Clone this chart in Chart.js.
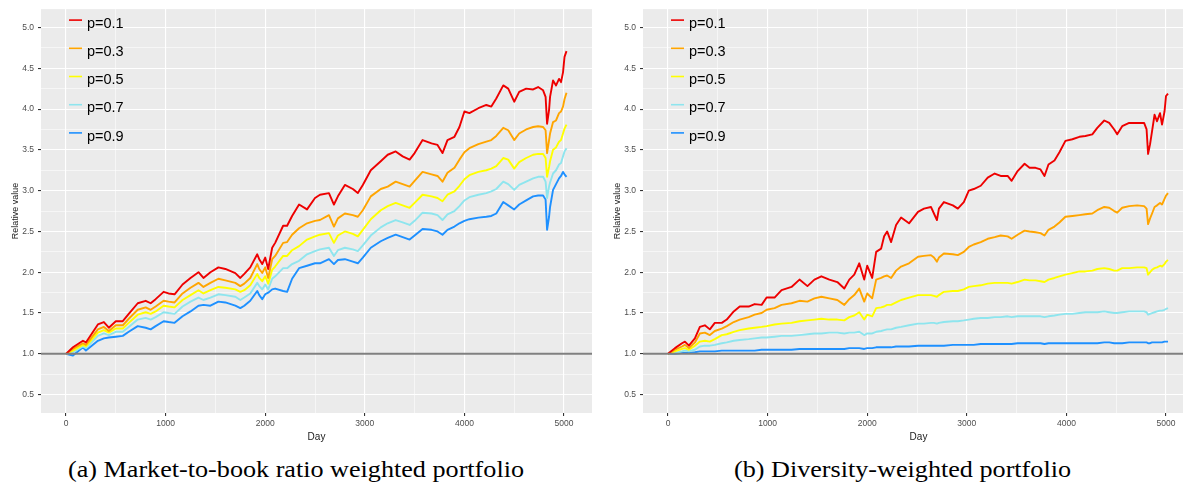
<!DOCTYPE html>
<html>
<head>
<meta charset="utf-8">
<script src="https://cdn.jsdelivr.net/npm/chart.js@4.4.1/dist/chart.umd.min.js"></script>
<style>
  html, body { margin: 0; padding: 0; background: #fff; overflow: hidden; }
  #wrap { position: relative; width: 1183px; height: 483px; overflow: hidden; }
  canvas { position: absolute; top: 0; }
  #cLeft { left: 0; }
  #cRight { left: 600px; }
  .cap { position: absolute; top: 458px; font-family: "Liberation Serif", serif; font-size: 23px;
         line-height: 23px; color: #000; white-space: nowrap; transform-origin: left top; }
</style>
</head>
<body>
<div id="wrap">
  <canvas id="cLeft" width="600" height="450"></canvas>
  <canvas id="cRight" width="600" height="450"></canvas>
  <div class="cap" id="capLeft">(a) Market-to-book ratio weighted portfolio</div>
  <div class="cap" id="capRight">(b) Diversity-weighted portfolio</div>
</div>
<script>
// series names + colours
const seriesNames = ['p=0.1', 'p=0.3', 'p=0.5', 'p=0.7', 'p=0.9'];
const seriesColors = ['#EE0000', '#FFA500', '#FFFF00', '#8EE5EE', '#1E90FF'];

// axis ticks
const xMajor = [0, 1000, 2000, 3000, 4000, 5000];
const xGrid = [0, 500, 1000, 1500, 2000, 2500, 3000, 3500, 4000, 4500, 5000];
const yGrid = [0.5, 0.75, 1.0, 1.25, 1.5, 1.75, 2.0, 2.25, 2.5, 2.75, 3.0, 3.25, 3.5, 3.75, 4.0, 4.25, 4.5, 4.75, 5.0];
const baseline = 1.0;

// (a) market-to-book ratio weighted portfolio
const leftDays = [
  0, 70, 170, 200, 320, 380, 430, 500, 570, 630,
  720, 800, 850, 900, 980, 1030, 1090, 1170, 1250, 1330,
  1380, 1450, 1530, 1600, 1700, 1750, 1790, 1850, 1920, 1940,
  1970, 2000, 2030, 2070, 2100, 2180, 2220, 2270, 2340, 2420,
  2500, 2550, 2640, 2690, 2730, 2800, 2880, 2930, 2980, 3060,
  3160, 3230, 3310, 3380, 3450, 3500, 3580, 3670, 3730, 3780,
  3830, 3900, 3950, 4000, 4050, 4140, 4220, 4270, 4320, 4390,
  4440, 4500, 4550, 4620, 4690, 4740, 4790, 4815, 4830, 4850,
  4860, 4890, 4920, 4950, 4970, 4990, 5005, 5025
];
const leftP1 = [
  1.00, 1.08, 1.16, 1.14, 1.36, 1.39, 1.32, 1.40, 1.40, 1.49,
  1.62, 1.65, 1.62, 1.67, 1.76, 1.74, 1.73, 1.85, 1.93, 2.00,
  1.93, 2.00, 2.06, 2.04, 1.99, 1.93, 1.98, 2.06, 2.22, 2.16,
  2.10, 2.18, 2.04, 2.30, 2.36, 2.57, 2.57, 2.69, 2.83, 2.77,
  2.91, 2.95, 2.97, 2.83, 2.93, 3.07, 3.02, 2.97, 3.07, 3.25,
  3.36, 3.44, 3.48, 3.42, 3.38, 3.46, 3.62, 3.58, 3.56, 3.46,
  3.62, 3.66, 3.78, 3.97, 3.95, 4.01, 4.05, 4.03, 4.13, 4.29,
  4.25, 4.09, 4.21, 4.25, 4.24, 4.27, 4.23, 4.15, 3.82, 3.99,
  4.15, 4.35, 4.29, 4.37, 4.33, 4.45, 4.64, 4.71
];
const leftP3 = [
  1.00, 1.06, 1.13, 1.11, 1.30, 1.33, 1.28, 1.35, 1.35, 1.43,
  1.54, 1.57, 1.54, 1.58, 1.65, 1.64, 1.63, 1.74, 1.81, 1.87,
  1.82, 1.87, 1.92, 1.90, 1.87, 1.83, 1.86, 1.93, 2.10, 2.04,
  1.99, 2.06, 1.93, 2.16, 2.20, 2.36, 2.37, 2.46, 2.54, 2.60,
  2.63, 2.64, 2.70, 2.56, 2.66, 2.72, 2.70, 2.68, 2.76, 2.93,
  3.02, 3.05, 3.11, 3.08, 3.05, 3.12, 3.23, 3.20, 3.18, 3.11,
  3.22, 3.28, 3.38, 3.47, 3.52, 3.57, 3.60, 3.62, 3.67, 3.77,
  3.74, 3.62, 3.70, 3.75, 3.78, 3.79, 3.78, 3.74, 3.46, 3.62,
  3.70, 3.84, 3.86, 3.95, 3.97, 4.03, 4.12, 4.20
];
const leftP5 = [
  1.00, 1.04, 1.11, 1.09, 1.26, 1.29, 1.26, 1.31, 1.31, 1.38,
  1.48, 1.51, 1.49, 1.52, 1.59, 1.58, 1.57, 1.66, 1.72, 1.78,
  1.74, 1.78, 1.82, 1.81, 1.79, 1.76, 1.78, 1.84, 1.98, 1.93,
  1.89, 1.95, 1.86, 2.03, 2.07, 2.20, 2.20, 2.27, 2.32, 2.40,
  2.44, 2.46, 2.48, 2.36, 2.45, 2.50, 2.47, 2.44, 2.52, 2.65,
  2.76, 2.81, 2.85, 2.82, 2.79, 2.85, 2.95, 2.93, 2.91, 2.87,
  2.95, 2.99, 3.06, 3.14, 3.19, 3.23, 3.25, 3.27, 3.30, 3.40,
  3.38, 3.27, 3.35, 3.40, 3.44, 3.45, 3.45, 3.40, 3.17, 3.29,
  3.36, 3.50, 3.53, 3.60, 3.62, 3.70, 3.76, 3.81
];
const leftP7 = [
  1.00, 1.02, 1.09, 1.07, 1.22, 1.25, 1.23, 1.27, 1.27, 1.33,
  1.42, 1.44, 1.42, 1.45, 1.51, 1.50, 1.49, 1.58, 1.64, 1.69,
  1.66, 1.69, 1.73, 1.72, 1.70, 1.66, 1.69, 1.74, 1.87, 1.83,
  1.79, 1.85, 1.79, 1.92, 1.95, 2.05, 2.05, 2.10, 2.14, 2.22,
  2.26, 2.28, 2.30, 2.20, 2.27, 2.30, 2.28, 2.26, 2.33, 2.45,
  2.55, 2.60, 2.64, 2.61, 2.58, 2.63, 2.73, 2.72, 2.70, 2.64,
  2.71, 2.75, 2.81, 2.88, 2.92, 2.95, 2.97, 2.99, 3.02, 3.11,
  3.08, 3.01, 3.07, 3.11, 3.15, 3.17, 3.17, 3.11, 2.91, 3.05,
  3.10, 3.21, 3.25, 3.32, 3.34, 3.42, 3.48, 3.52
];
const leftP9 = [
  1.00, 0.98, 1.08, 1.04, 1.16, 1.19, 1.20, 1.21, 1.22, 1.27,
  1.34, 1.32, 1.30, 1.34, 1.40, 1.39, 1.38, 1.46, 1.52, 1.59,
  1.60, 1.59, 1.64, 1.63, 1.59, 1.56, 1.59, 1.65, 1.77, 1.72,
  1.67, 1.73, 1.75, 1.79, 1.80, 1.77, 1.76, 1.92, 2.05, 2.08,
  2.11, 2.11, 2.16, 2.10, 2.15, 2.16, 2.13, 2.11, 2.18, 2.30,
  2.38, 2.42, 2.46, 2.43, 2.40, 2.45, 2.53, 2.52, 2.50, 2.46,
  2.52, 2.56, 2.60, 2.63, 2.65, 2.67, 2.68, 2.69, 2.72, 2.86,
  2.82, 2.77, 2.83, 2.88, 2.93, 2.94, 2.94, 2.89, 2.52, 2.68,
  2.80, 3.01, 3.08, 3.15, 3.18, 3.23, 3.20, 3.17
];

// (b) diversity-weighted portfolio
const rightDays = [
  0, 70, 140, 170, 210, 270, 320, 370, 420, 470,
  540, 590, 660, 720, 810, 870, 940, 990, 1070, 1140,
  1240, 1320, 1400, 1470, 1540, 1620, 1700, 1770, 1820, 1870,
  1920, 1970, 2000, 2050, 2090, 2140, 2170, 2200, 2240, 2290,
  2340, 2420, 2510, 2570, 2640, 2670, 2700, 2720, 2770, 2860,
  2910, 2970, 3020, 3070, 3140, 3210, 3280, 3340, 3410, 3450,
  3510, 3580, 3630, 3690, 3740, 3780, 3820, 3880, 3930, 3990,
  4060, 4130, 4190, 4260, 4310, 4380, 4430, 4480, 4510, 4560,
  4630, 4710, 4780, 4805, 4820, 4840, 4860, 4885, 4910, 4940,
  4960, 4985, 5000, 5020
];
const rightP1 = [
  1.00, 1.07, 1.13, 1.15, 1.10, 1.19, 1.33, 1.35, 1.30, 1.38,
  1.38, 1.42, 1.52, 1.58, 1.58, 1.61, 1.60, 1.69, 1.69, 1.78,
  1.82, 1.91, 1.83, 1.91, 1.95, 1.91, 1.88, 1.80, 1.91, 1.97,
  2.11, 1.91, 2.08, 1.93, 2.25, 2.29, 2.44, 2.50, 2.37, 2.58,
  2.67, 2.60, 2.74, 2.78, 2.80, 2.72, 2.64, 2.78, 2.86, 2.82,
  2.78, 2.86, 3.00, 3.02, 3.06, 3.16, 3.21, 3.18, 3.18, 3.12,
  3.24, 3.33, 3.28, 3.28, 3.26, 3.18, 3.32, 3.37, 3.47, 3.61,
  3.63, 3.66, 3.67, 3.69, 3.77, 3.86, 3.83, 3.75, 3.69, 3.79,
  3.83, 3.83, 3.83, 3.75, 3.45, 3.57, 3.73, 3.93, 3.85, 3.95,
  3.81, 3.97, 4.16, 4.19
];
const rightP3 = [
  1.00, 1.05, 1.09, 1.11, 1.07, 1.14, 1.25, 1.26, 1.23, 1.28,
  1.31, 1.34, 1.39, 1.42, 1.45, 1.48, 1.50, 1.54, 1.56, 1.60,
  1.62, 1.65, 1.64, 1.68, 1.70, 1.68, 1.66, 1.60, 1.67, 1.72,
  1.80, 1.64, 1.74, 1.68, 1.91, 1.93, 1.95, 1.96, 1.93, 2.02,
  2.07, 2.11, 2.19, 2.20, 2.21, 2.18, 2.13, 2.18, 2.23, 2.22,
  2.21, 2.25, 2.31, 2.34, 2.37, 2.41, 2.43, 2.45, 2.44, 2.41,
  2.46, 2.51, 2.50, 2.49, 2.48, 2.45, 2.52, 2.56, 2.61, 2.68,
  2.69, 2.70, 2.71, 2.72, 2.76, 2.80, 2.79, 2.75, 2.73, 2.79,
  2.81, 2.82, 2.81, 2.78, 2.59, 2.66, 2.72, 2.80, 2.82, 2.85,
  2.83, 2.90, 2.94, 2.97
];
const rightP5 = [
  1.00, 1.03, 1.06, 1.07, 1.05, 1.10, 1.15, 1.16, 1.15, 1.18,
  1.23, 1.24, 1.27, 1.29, 1.31, 1.32, 1.33, 1.34, 1.36, 1.37,
  1.38, 1.40, 1.41, 1.42, 1.43, 1.42, 1.42, 1.41, 1.45, 1.47,
  1.51, 1.42, 1.48, 1.46, 1.56, 1.57, 1.58, 1.60, 1.60, 1.63,
  1.66, 1.69, 1.72, 1.72, 1.72, 1.71, 1.70, 1.72, 1.76, 1.77,
  1.77, 1.79, 1.82, 1.83, 1.84, 1.86, 1.87, 1.87, 1.87, 1.86,
  1.88, 1.91, 1.90, 1.90, 1.89, 1.88, 1.91, 1.93, 1.95, 1.97,
  1.99, 2.01, 2.01, 2.02, 2.04, 2.05, 2.04, 2.02, 2.02, 2.05,
  2.05, 2.06, 2.06, 2.05, 1.97, 2.00, 2.03, 2.05, 2.06, 2.08,
  2.07, 2.10, 2.13, 2.15
];
const rightP7 = [
  1.00, 1.01, 1.03, 1.04, 1.03, 1.05, 1.09, 1.10, 1.10, 1.11,
  1.13, 1.14, 1.16, 1.17, 1.18, 1.19, 1.20, 1.20, 1.21, 1.22,
  1.22, 1.23, 1.24, 1.25, 1.25, 1.26, 1.26, 1.25, 1.26, 1.26,
  1.27, 1.23, 1.25, 1.25, 1.27, 1.28, 1.29, 1.30, 1.30, 1.32,
  1.33, 1.35, 1.37, 1.37, 1.38, 1.38, 1.37, 1.38, 1.39, 1.40,
  1.40, 1.41, 1.42, 1.43, 1.44, 1.44, 1.45, 1.45, 1.46, 1.45,
  1.46, 1.46, 1.46, 1.46, 1.46, 1.45, 1.46, 1.47, 1.48, 1.49,
  1.49, 1.50, 1.51, 1.51, 1.51, 1.52, 1.51, 1.50, 1.50, 1.51,
  1.52, 1.52, 1.52, 1.51, 1.48, 1.49, 1.50, 1.51, 1.52, 1.53,
  1.53, 1.54, 1.55, 1.56
];
const rightP9 = [
  1.00, 1.00, 1.01, 1.01, 1.01, 1.02, 1.03, 1.03, 1.03, 1.03,
  1.04, 1.04, 1.04, 1.04, 1.04, 1.04, 1.05, 1.05, 1.05, 1.05,
  1.05, 1.06, 1.06, 1.06, 1.06, 1.06, 1.06, 1.06, 1.07, 1.07,
  1.07, 1.06, 1.07, 1.07, 1.08, 1.08, 1.08, 1.08, 1.08, 1.09,
  1.09, 1.09, 1.10, 1.10, 1.10, 1.10, 1.10, 1.10, 1.10, 1.11,
  1.11, 1.11, 1.11, 1.11, 1.12, 1.12, 1.12, 1.12, 1.12, 1.12,
  1.13, 1.13, 1.13, 1.13, 1.13, 1.12, 1.13, 1.13, 1.13, 1.13,
  1.13, 1.13, 1.13, 1.13, 1.13, 1.14, 1.14, 1.13, 1.13, 1.13,
  1.14, 1.14, 1.14, 1.14, 1.13, 1.13, 1.14, 1.14, 1.14, 1.14,
  1.14, 1.15, 1.15, 1.15
];

const FONT = '"Liberation Sans", Arial, sans-serif';
const X_MIN = -251, X_MAX = 5281;
const Y_MIN = 0.275, Y_MAX = 5.225;
const LINE_W = 1.9;

const isMajorY = v => Math.abs(v * 2 - Math.round(v * 2)) < 1e-6;
const isMajorX = v => xMajor.includes(v);

// grey panel, y=1 reference line and the inside legend
const ggPanel = {
  id: 'ggPanel',
  beforeDraw(chart) {
    const { ctx, chartArea: a } = chart;
    ctx.save();
    ctx.fillStyle = '#EBEBEB';
    ctx.fillRect(a.left, a.top, a.width, a.height);
    ctx.restore();
  },
  afterDatasetsDraw(chart) {
    const { ctx, chartArea: a } = chart;
    const y = chart.scales.y.getPixelForValue(baseline);
    ctx.save();
    ctx.strokeStyle = '#808080';
    ctx.lineWidth = 2;
    ctx.beginPath();
    ctx.moveTo(a.left, y);
    ctx.lineTo(a.right, y);
    ctx.stroke();
    ctx.restore();
  },
  afterDraw(chart) {
    const { ctx, chartArea: a } = chart;
    ctx.save();
    ctx.font = '14.5px ' + FONT;
    ctx.fillStyle = '#000';
    ctx.textAlign = 'left';
    ctx.textBaseline = 'alphabetic';
    chart.data.datasets.forEach((ds, i) => {
      const ky = a.top + 11 + i * 28.2;
      ctx.strokeStyle = ds.borderColor;
      ctx.lineWidth = 1.6;
      ctx.beginPath();
      ctx.moveTo(a.left + 28, ky);
      ctx.lineTo(a.left + 41, ky);
      ctx.stroke();
      ctx.fillText(ds.label, a.left + 46, ky + 7.6);
    });
    ctx.restore();
  }
};

function buildDatasets(days, lists) {
  return lists.map((vals, i) => ({
    label: seriesNames[i],
    data: days.map((d, j) => ({ x: d, y: vals[j] })),
    borderColor: seriesColors[i],
    borderWidth: LINE_W,
    borderJoinStyle: 'round',
    pointRadius: 0,
    fill: false,
    tension: 0
  }));
}

function makeOptions(yAxisWidth, rightPad, yTitlePad) {
  return {
    responsive: false,
    animation: false,
    devicePixelRatio: 1,
    parsing: false,
    layout: { padding: { top: 8, right: rightPad, left: 0, bottom: 0 } },
    plugins: { legend: { display: false }, tooltip: { enabled: false } },
    scales: {
      x: {
        type: 'linear', min: X_MIN, max: X_MAX, bounds: 'data',
        afterBuildTicks: s => { s.ticks = xGrid.map(v => ({ value: v })); },
        afterFit: s => { s.height = 37; },
        ticks: {
          autoSkip: false, maxRotation: 0, padding: 3, color: '#4D4D4D',
          font: { family: FONT, size: 8.5 },
          callback: v => isMajorX(v) ? String(v) : ''
        },
        grid: {
          color: '#FFFFFF',
          lineWidth: c => isMajorX(c.tick.value) ? 1.1 : 0.55,
          tickLength: 3,
          tickColor: c => isMajorX(c.tick.value) ? '#333333' : 'rgba(0,0,0,0)'
        },
        border: { display: false },
        title: {
          display: true, text: 'Day', color: '#1A1A1A',
          font: { family: FONT, size: 10 }, padding: { top: 0, bottom: 6.5 }
        }
      },
      y: {
        type: 'linear', min: Y_MIN, max: Y_MAX, bounds: 'data',
        afterBuildTicks: s => { s.ticks = yGrid.map(v => ({ value: v })); },
        afterFit: s => { s.width = yAxisWidth; },
        ticks: {
          autoSkip: false, padding: 4, color: '#4D4D4D',
          font: { family: FONT, size: 8.5 },
          callback: v => isMajorY(v) ? v.toFixed(1) : ''
        },
        grid: {
          color: '#FFFFFF',
          lineWidth: c => isMajorY(c.tick.value) ? 1.1 : 0.55,
          tickLength: 3,
          tickColor: c => isMajorY(c.tick.value) ? '#333333' : 'rgba(0,0,0,0)'
        },
        border: { display: false },
        title: {
          display: true, text: 'Relative value', color: '#1A1A1A',
          font: { family: FONT, size: 9 }, padding: { top: yTitlePad, bottom: 0 }
        }
      }
    }
  };
}

new Chart(document.getElementById('cLeft'), {
  type: 'line',
  data: { datasets: buildDatasets(leftDays, [leftP1, leftP3, leftP5, leftP7, leftP9]) },
  options: makeOptions(41, 8, 10.6),
  plugins: [ggPanel]
});

new Chart(document.getElementById('cRight'), {
  type: 'line',
  data: { datasets: buildDatasets(rightDays, [rightP1, rightP3, rightP5, rightP7, rightP9]) },
  options: makeOptions(43, 6, 12.6),
  plugins: [ggPanel]
});

// captions: centre them and stretch to the reference width
function placeCaption(id, centerX, targetWidth) {
  const el = document.getElementById(id);
  const w = el.getBoundingClientRect().width;
  el.style.transform = 'scaleX(' + (targetWidth / w) + ')';
  el.style.left = (centerX - targetWidth / 2) + 'px';
}
placeCaption('capLeft', 296, 456);
placeCaption('capRight', 902.5, 337);
</script>
</body>
</html>
